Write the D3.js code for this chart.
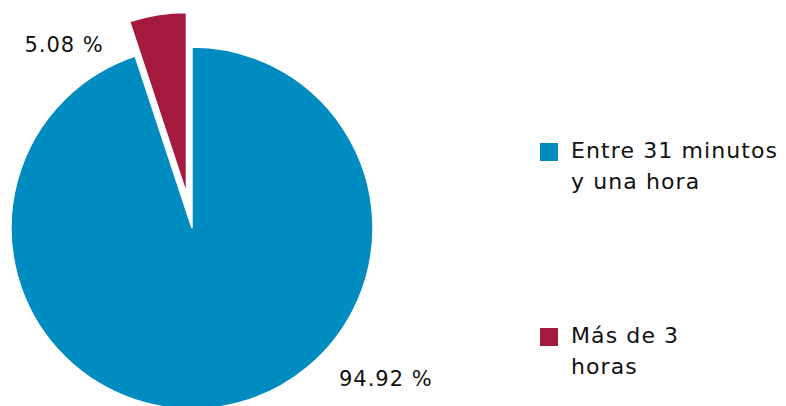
<!DOCTYPE html>
<html>
<head>
<meta charset="utf-8">
<script src="https://cdn.jsdelivr.net/npm/d3@7"></script>
<style>
  html, body { margin: 0; padding: 0; background: #fff; }
  svg { display: block; font-family: "DejaVu Sans", sans-serif; }
</style>
</head>
<body>
<svg id="chart" width="786" height="406"></svg>
<script>
// Time categories and their shares (%)
const categories = ["Entre 31 minutos y una hora", "Más de 3 horas"];
const legendLines = [["Entre 31 minutos", "y una hora"], ["Más de 3", "horas"]];
const values = [94.92, 5.08];
const colors = ["#008bc1", "#a41a3f"];

const W = 786, H = 406;
const cx = 192, cy = 228, R = 181;
const explode = [0, 35];          // radial pull-out per slice
// label placement: angle (deg, clockwise from 12 o'clock) and distance from centre
const labelPos = [{ a: 128, r: 246 }, { a: -35, r: 223 }];

const svg = d3.select("#chart");
const g = svg.append("g").attr("transform", `translate(${cx},${cy})`);

const pie = d3.pie().sort(null).value(d => d)(values);
const arc = d3.arc().innerRadius(0).outerRadius(R);

g.selectAll("path.slice")
  .data(pie)
  .join("path")
  .attr("class", "slice")
  .attr("d", arc)
  .attr("fill", (d, i) => colors[i])
  .attr("stroke", "#fff")
  .attr("stroke-width", 1.5)
  .attr("transform", (d, i) => {
    const mid = (d.startAngle + d.endAngle) / 2;
    return `translate(${Math.sin(mid) * explode[i]},${-Math.cos(mid) * explode[i]})`;
  });

const fmt = v => v.toFixed(2) + " %";
g.selectAll("text.lbl")
  .data(pie)
  .join("text")
  .attr("class", "lbl")
  .attr("x", (d, i) => Math.sin(labelPos[i].a * Math.PI / 180) * labelPos[i].r)
  .attr("y", (d, i) => -Math.cos(labelPos[i].a * Math.PI / 180) * labelPos[i].r)
  .attr("text-anchor", "middle")
  .attr("dominant-baseline", "central")
  .attr("font-size", 21)
  .attr("letter-spacing", 1)
  .attr("fill", "#111")
  .text(d => fmt(d.data));

// Legend
const legendY = [143, 328];
const leg = svg.append("g").attr("transform", "translate(540,0)");
const items = leg.selectAll("g.item")
  .data(categories)
  .join("g")
  .attr("class", "item")
  .attr("transform", (d, i) => `translate(0,${legendY[i]})`);

items.append("rect")
  .attr("width", 18).attr("height", 18)
  .attr("fill", (d, i) => colors[i]);

items.each(function (d, i) {
  const t = d3.select(this).append("text")
    .attr("x", 31).attr("y", 15)
    .attr("font-size", 22)
    .attr("letter-spacing", 1.1)
    .attr("fill", "#111");
  legendLines[i].forEach((line, k) => {
    t.append("tspan").attr("x", 31).attr("dy", k === 0 ? 0 : 31).text(line);
  });
});
</script>
</body>
</html>
